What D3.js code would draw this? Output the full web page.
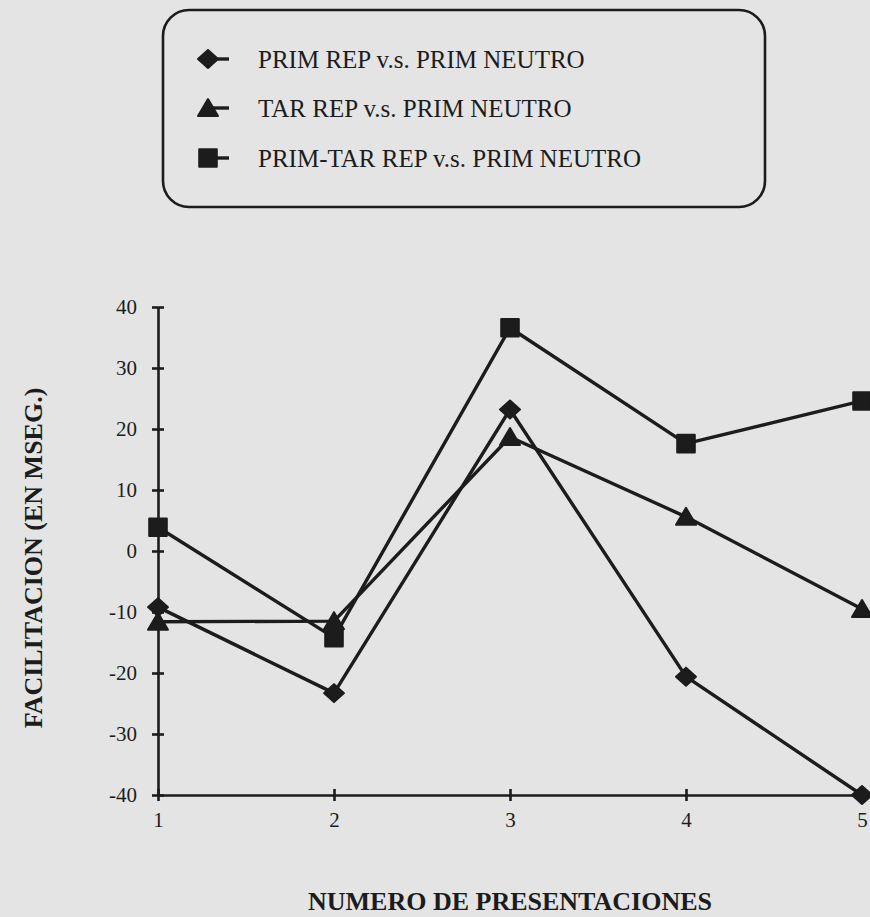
<!DOCTYPE html>
<html>
<head>
<meta charset="utf-8">
<script src="https://cdn.jsdelivr.net/npm/d3@7"></script>
<style>
  html, body { margin: 0; padding: 0; background: #e4e4e4; }
  svg { display: block; }
</style>
</head>
<body>
<script>
// Presentation number on the x axis
const presentaciones = [1, 2, 3, 4, 5];
// Facilitation (ms) per condition
const primRep    = [-9.2, -23.3, 23.2, -20.6, -40];
const tarRep     = [-11.6, -11.5, 18.7, 5.6, -9.5];
const primTarRep = [3.9, -14.2, 36.6, 17.6, 24.6];
const yTicks = [-40, -30, -20, -10, 0, 10, 20, 30, 40];
const seriesNames = [
  "PRIM REP v.s. PRIM NEUTRO",
  "TAR REP v.s. PRIM NEUTRO",
  "PRIM-TAR REP v.s. PRIM NEUTRO"
];

const W = 870, H = 917;
const ink = "#1c1c1c";
const serif = "'Liberation Serif', 'Times New Roman', serif";
const fmt = d => String(d); // plain hyphen for negatives

const svg = d3.select("body").append("svg")
  .attr("width", W).attr("height", H);

svg.append("rect").attr("width", W).attr("height", H).attr("fill", "#e4e4e4");

const x = d3.scaleLinear().domain([1, 5]).range([158, 862]);
const y = d3.scaleLinear().domain([-40, 40]).range([795, 307]);

// Axes: ticks cross the axis line on both sides
const yAxis = d3.axisLeft(y).tickValues(yTicks).tickSize(0).tickPadding(21)
  .tickFormat(fmt);
const gy = svg.append("g").attr("transform", `translate(${x(1)},0)`).call(yAxis);
gy.select(".domain").attr("stroke", ink).attr("stroke-width", 2.6);
gy.selectAll(".tick line").attr("x1", -6).attr("x2", 6)
  .attr("stroke", ink).attr("stroke-width", 2.6);
gy.selectAll(".tick text").attr("font-family", serif).attr("font-size", 21)
  .attr("fill", ink);

const xAxis = d3.axisBottom(x).tickValues(presentaciones).tickSize(0).tickPadding(17)
  .tickFormat(fmt);
const gx = svg.append("g").attr("transform", `translate(0,${y(-40)})`).call(xAxis);
gx.select(".domain").attr("stroke", ink).attr("stroke-width", 2.6);
gx.selectAll(".tick line").attr("y1", -6).attr("y2", 6)
  .attr("stroke", ink).attr("stroke-width", 2.6);
gx.selectAll(".tick text").attr("font-family", serif).attr("font-size", 21)
  .attr("fill", ink);

// Axis titles
svg.append("text")
  .attr("x", 510).attr("y", 910)
  .attr("text-anchor", "middle")
  .attr("font-family", serif).attr("font-weight", "bold").attr("font-size", 26)
  .attr("fill", ink)
  .text("NUMERO DE PRESENTACIONES");

svg.append("text")
  .attr("transform", `translate(42,558) rotate(-90)`)
  .attr("text-anchor", "middle")
  .attr("font-family", serif).attr("font-weight", "bold").attr("font-size", 26)
  .attr("fill", ink)
  .text("FACILITACION (EN MSEG.)");

// Marker shapes (centred on the origin)
const markerDiamond = "M-10,0L0,-9L10,0L0,9Z";
const markerTriangle = "M0,-9L10,8L-10,8Z";
const markerSquare = d3.symbol().type(d3.symbolSquare).size(310)();

const series = [
  { name: seriesNames[0], values: primRep, shape: markerDiamond },
  { name: seriesNames[1], values: tarRep, shape: markerTriangle },
  { name: seriesNames[2], values: primTarRep, shape: markerSquare }
];

const line = d3.line().x((d, i) => x(presentaciones[i])).y(d => y(d));

series.forEach(s => {
  svg.append("path")
    .datum(s.values)
    .attr("d", line)
    .attr("fill", "none")
    .attr("stroke", ink)
    .attr("stroke-width", 3.4)
    .attr("stroke-linejoin", "round");
  svg.append("g").selectAll("path")
    .data(s.values)
    .join("path")
    .attr("transform", (d, i) => `translate(${x(presentaciones[i])},${y(d)})`)
    .attr("d", s.shape)
    .attr("fill", ink)
    .attr("stroke", ink)
    .attr("stroke-width", 2)
    .attr("stroke-linejoin", "round");
});

// Legend box
const legend = svg.append("g");
legend.append("rect")
  .attr("x", 163).attr("y", 10).attr("width", 602).attr("height", 197)
  .attr("rx", 26).attr("ry", 26)
  .attr("fill", "none").attr("stroke", ink).attr("stroke-width", 2.6);

const legendY = [59, 108, 158];
series.forEach((s, i) => {
  const g = legend.append("g").attr("transform", `translate(208,${legendY[i]})`);
  g.append("line").attr("x1", 0).attr("x2", 21).attr("y1", 0).attr("y2", 0)
    .attr("stroke", ink).attr("stroke-width", 3.4);
  g.append("path").attr("d", s.shape).attr("fill", ink)
    .attr("stroke", ink).attr("stroke-width", 2).attr("stroke-linejoin", "round");
  legend.append("text")
    .attr("x", 258).attr("y", legendY[i] + 9)
    .attr("font-family", serif).attr("font-size", 25)
    .attr("fill", ink)
    .text(s.name);
});
</script>
</body>
</html>
